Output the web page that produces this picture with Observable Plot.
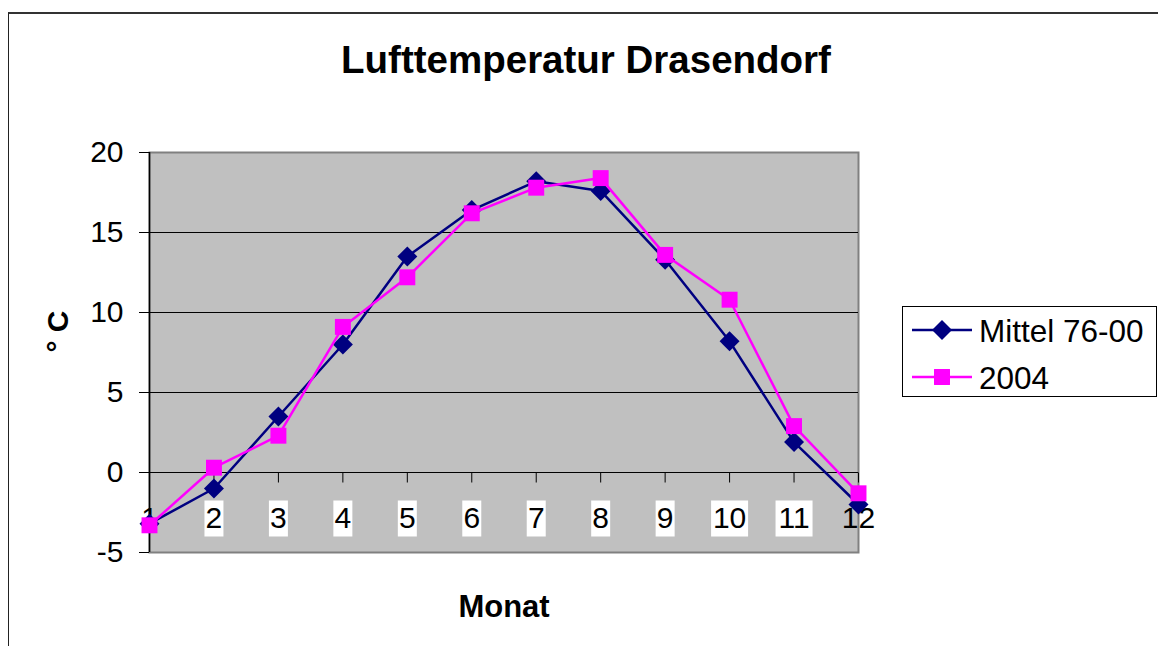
<!DOCTYPE html>
<html>
<head>
<meta charset="utf-8">
<script src="https://cdn.jsdelivr.net/npm/d3@7"></script>
<script src="https://cdn.jsdelivr.net/npm/@observablehq/plot@0.6"></script>
<style>
  html, body { margin: 0; padding: 0; background: #fff; overflow: hidden; }
  #wrap { position: relative; width: 1158px; height: 646px; font-family: "Liberation Sans", Arial, sans-serif; }
  #outer { position: absolute; left: 8px; top: 12px; width: 1300px; height: 800px; border-top: 2px solid #333; border-left: 1px solid #222; pointer-events: none; }
  #legend { position: absolute; left: 902px; top: 306px; }
</style>
</head>
<body>
<div id="wrap"><div id="outer"></div></div>
<script>
// ---- data ----
const months = [1, 2, 3, 4, 5, 6, 7, 8, 9, 10, 11, 12];
const mittel = [-3.2, -1.0, 3.5, 8.0, 13.5, 16.4, 18.2, 17.6, 13.3, 8.2, 1.9, -2.0];
const y2004 = [-3.3, 0.3, 2.3, 9.1, 12.2, 16.2, 17.8, 18.4, 13.6, 10.8, 2.9, -1.3];
const yTicks = [-5, 0, 5, 10, 15, 20];
const seriesNames = ["Mittel 76-00", "2004"];
const seriesColors = ["#000080", "#FF00FF"];
const titleText = "Lufttemperatur Drasendorf";
const xTitle = "Monat";
const yTitle = "° C";

const rowsM = months.map((m, i) => ({month: m, value: mittel[i]}));
const rows4 = months.map((m, i) => ({month: m, value: y2004[i]}));

const tickSym = {draw(ctx) { ctx.moveTo(0, 0); ctx.lineTo(0, 10); }};
const box1 = {draw(ctx) { ctx.rect(-9.5, -18, 19, 36); }};
const box2 = {draw(ctx) { ctx.rect(-18.5, -18, 37, 36); }};
const inner = months.filter(m => m > months[0] && m < months[months.length - 1]);

const chart = Plot.plot({
  width: 1158,
  height: 646,
  marginLeft: 149,
  marginRight: 300,
  marginTop: 152,
  marginBottom: 94,
  style: {fontFamily: "'Liberation Sans', Arial, sans-serif", background: "transparent", color: "#000", overflow: "visible"},
  x: {domain: [1, 12], axis: null},
  y: {domain: [-5, 20], axis: null},
  marks: [
    Plot.frame({fill: "#C0C0C0", stroke: "#808080", strokeWidth: 2}),
    Plot.ruleY(yTicks.filter(v => v > -5 && v < 20), {stroke: "#000", strokeWidth: 1}),
    Plot.ruleX([1], {stroke: "#000", strokeWidth: 1.5}),
    Plot.axisY({ticks: yTicks, tickSize: 10, tickPadding: 16, fontSize: 30, tickFormat: d => String(d), label: null, stroke: "#000"}),
    Plot.dot(months, {x: d => d, y: () => 0, symbol: tickSym, stroke: "#000", fill: "none", strokeWidth: 1}),
    Plot.dot(inner.filter(m => m < 10), {x: d => d, y: () => 0, dy: 46, symbol: box1, fill: "#fff", stroke: "none"}),
    Plot.dot(inner.filter(m => m >= 10), {x: d => d, y: () => 0, dy: 46, symbol: box2, fill: "#fff", stroke: "none"}),
    Plot.text(months, {x: d => d, y: () => 0, dy: 45.5, text: d => String(d), fontSize: 30, fill: "#000"}),
    Plot.line(rowsM, {x: "month", y: "value", stroke: seriesColors[0], strokeWidth: 2.5}),
    Plot.dot(rowsM, {x: "month", y: "value", symbol: "diamond2", r: 9, fill: seriesColors[0], stroke: "none"}),
    Plot.line(rows4, {x: "month", y: "value", stroke: seriesColors[1], strokeWidth: 2.5}),
    Plot.dot(rows4, {x: "month", y: "value", symbol: "square", r: 9, fill: seriesColors[1], stroke: "none"}),
    Plot.text([titleText], {frameAnchor: "top", dx: 82, dy: -80, lineAnchor: "bottom", fontSize: 38.5, fontWeight: "bold", fill: "#000"}),
    Plot.text([xTitle], {frameAnchor: "bottom", dy: 64, lineAnchor: "bottom", fontSize: 31, fontWeight: "bold", fill: "#000"}),
    Plot.text([yTitle], {frameAnchor: "left", dx: -82, lineAnchor: "bottom", rotate: -90, fontSize: 30, fontWeight: "bold", fill: "#000"})
  ]
});
chart.style.position = "absolute";
chart.style.left = "0px";
chart.style.top = "0px";
const wrap = document.getElementById("wrap");
wrap.insertBefore(chart, wrap.firstChild);

// ---- legend ----
const lg = d3.select("#wrap").append("svg").attr("id", "legend")
  .attr("width", 256).attr("height", 92)
  .style("font-family", "'Liberation Sans', Arial, sans-serif");
lg.append("rect").attr("x", 0.5).attr("y", 0.5).attr("width", 254).attr("height", 90)
  .attr("fill", "#fff").attr("stroke", "#000");
const rowY = [24, 71];
seriesNames.forEach((name, i) => {
  const g = lg.append("g").attr("transform", `translate(0,${rowY[i]})`);
  g.append("line").attr("x1", 10).attr("x2", 70).attr("y1", 0).attr("y2", 0)
    .attr("stroke", seriesColors[i]).attr("stroke-width", 2.5);
  const sym = i === 0 ? d3.symbolDiamond2 : d3.symbolSquare;
  g.append("path").attr("transform", "translate(40,0)")
    .attr("d", d3.symbol(sym, Math.PI * 81)())
    .attr("fill", seriesColors[i]);
  g.append("text").attr("x", 77).attr("y", 11.5).attr("font-size", 31.5).attr("fill", "#000").text(name);
});
</script>
</body>
</html>
